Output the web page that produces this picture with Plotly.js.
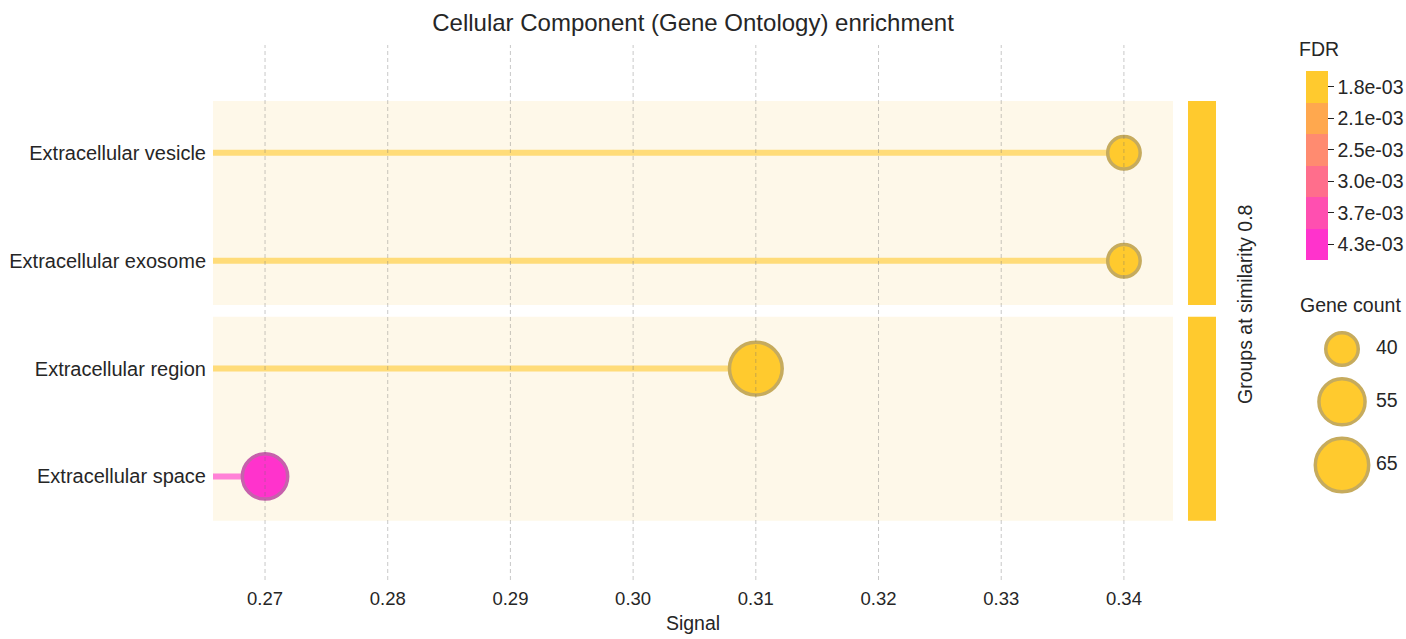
<!DOCTYPE html>
<html>
<head>
<meta charset="utf-8">
<script src="https://cdn.plot.ly/plotly-3.0.1.min.js"></script>
<style>html,body{margin:0;padding:0;background:#fff;}#chart{width:1406px;height:639px;}</style>
</head>
<body>
<div id="chart"></div>
<script>
// ---- data ----
const categories = ['Extracellular vesicle', 'Extracellular exosome', 'Extracellular region', 'Extracellular space'];
const signal = [0.34, 0.34, 0.31, 0.27];
const geneCount = [40, 40, 64, 54];
const fdr = [0.0018, 0.0018, 0.0018, 0.0043];
const groupId = [1, 1, 2, 2];
const xTickVals = [0.27, 0.28, 0.29, 0.30, 0.31, 0.32, 0.33, 0.34];
const fdrTickLabels = ['1.8e-03', '2.1e-03', '2.5e-03', '3.0e-03', '3.7e-03', '4.3e-03'];
const fdrColors = ['#FFCA2E', '#FFA84E', '#FF8B70', '#FF6E8C', '#FF4FB0', '#FF33CC'];
const legendCounts = [40, 55, 65];
const groupLabel = 'Groups at similarity 0.8';

// ---- styles / helpers ----
const FONT = 'Liberation Sans, Arial, sans-serif';
const TXT = '#262626';
const FS = 19.5;
const W = 1406, H = 639, ML = 213, MR = 10, MT = 45, MB = 59;
const PW = W - ML - MR, PH = H - MT - MB;
const MAIN_W = 960;
const xRange = [0.26576, 0.3440];
const yRange = [3.96, -1.0];
const lineW = 3.5;
function px2paperX(p) { return (p - ML) / PW; }
function px2paperY(p) { return 1 - (p - MT) / PH; }
function yDataToPaper(v) { return (yRange[0] - v) / (yRange[0] - yRange[1]); }
function outerDiam(c) { return 36 * Math.sqrt(1 + (c - 40) * 0.06); }
function fdrColor(v) {
  let best = 0, bd = Infinity;
  fdrTickLabels.forEach((t, i) => {
    const d = Math.abs(Math.log(parseFloat(t)) - Math.log(v));
    if (d < bd) { bd = d; best = i; }
  });
  return fdrColors[best];
}
function rgb(hex) { const n = parseInt(hex.slice(1), 16); return [n >> 16 & 255, n >> 8 & 255, n & 255]; }
function hexA(hex, a) { const c = rgb(hex); return 'rgba(' + c.join(',') + ',' + a + ')'; }
function edge(hex) { const c = rgb(hex); return 'rgb(' + c.map(v => Math.round(v * 0.5 + 140 * 0.5)).join(',') + ')'; }
const yIdx = categories.map((_, i) => i);
const ptColors = fdr.map(fdrColor);

const traces = [];
// stems
categories.forEach((c, i) => {
  traces.push({
    type: 'scatter', mode: 'lines', x: [xRange[0], signal[i]], y: [yIdx[i], yIdx[i]],
    line: { color: hexA(ptColors[i], 0.6), width: 6 }, hoverinfo: 'skip', showlegend: false, cliponaxis: false
  });
});
// points
traces.push({
  type: 'scatter', mode: 'markers', x: signal, y: yIdx, text: categories,
  marker: {
    size: geneCount.map(c => outerDiam(c) - lineW), color: ptColors,
    line: { color: ptColors.map(edge), width: lineW }, opacity: 1
  },
  showlegend: false, cliponaxis: false
});

// gene count legend subplot
const gap = 10;
const legY = [];
legendCounts.forEach((c, i) => {
  if (i === 0) legY.push(29);
  else legY.push(legY[i - 1] + (outerDiam(legendCounts[i - 1]) + outerDiam(c)) / 2 + gap);
});
traces.push({
  type: 'scatter', mode: 'markers', x: legendCounts.map(() => 42), y: legY, xaxis: 'x2', yaxis: 'y2',
  marker: { size: legendCounts.map(c => outerDiam(c) - lineW), color: fdrColors[0], opacity: 1,
    line: { color: edge(fdrColors[0]), width: lineW } },
  hoverinfo: 'skip', showlegend: false, cliponaxis: false
});
traces.push({
  type: 'scatter', mode: 'text', x: legendCounts.map(() => 76), y: legY, xaxis: 'x2', yaxis: 'y2',
  text: legendCounts.map(String), textposition: 'middle right',
  textfont: { family: FONT, size: FS, color: TXT }, hoverinfo: 'skip', showlegend: false, cliponaxis: false
});
// colorbar carrier
const nb = fdrColors.length;
const cs = [];
const revColors = fdrColors.slice().reverse();
revColors.forEach((col, i) => { cs.push([i / nb, col]); cs.push([(i + 1) / nb, col]); });
traces.push({
  type: 'scatter', mode: 'markers', x: [50], y: [50], xaxis: 'x2', yaxis: 'y2',
  marker: {
    size: 1, opacity: 0, color: [0], cmin: 0, cmax: nb, colorscale: cs, showscale: true,
    colorbar: {
      x: px2paperX(1306), xanchor: 'left', xpad: 0, y: px2paperY(165.5), yanchor: 'middle', ypad: 0,
      thickness: 22, thicknessmode: 'pixels', len: 189, lenmode: 'pixels', outlinewidth: 0,
      tickmode: 'array', tickvals: revColors.map((_, i) => i + 0.5), ticktext: fdrTickLabels.slice().reverse(),
      ticks: 'outside', ticklen: 6, tickwidth: 1.3, tickcolor: TXT, ticklabelstandoff: 9,
      tickfont: { family: FONT, size: FS, color: TXT }
    }
  },
  hoverinfo: 'skip', showlegend: false
});

// shapes
const shapes = [];
const groups = [...new Set(groupId)];
groups.forEach(g => {
  const idx = yIdx.filter(i => groupId[i] === g);
  const top = Math.min(...idx) - 0.48, bot = Math.max(...idx) + 0.41;
  shapes.push({ type: 'rect', layer: 'below', xref: 'x domain', x0: 0, x1: 1, yref: 'y', y0: top, y1: bot,
    fillcolor: '#FEF8E9', line: { width: 0 } });
  shapes.push({ type: 'rect', layer: 'above', xref: 'paper', x0: px2paperX(1188), x1: px2paperX(1216),
    yref: 'paper', y0: yDataToPaper(bot), y1: yDataToPaper(top), fillcolor: fdrColors[0], line: { width: 0 } });
});
xTickVals.forEach(v => {
  shapes.push({ type: 'line', layer: 'above', xref: 'x', x0: v, x1: v, yref: 'paper', y0: 0, y1: 1,
    line: { color: 'rgba(110,110,110,0.38)', width: 1, dash: '4px,3px' } });
});

const layout = {
  width: W, height: H, paper_bgcolor: '#fff', plot_bgcolor: 'rgba(0,0,0,0)',
  margin: { l: ML, r: MR, t: MT, b: MB, autoexpand: false },
  font: { family: FONT, color: TXT },
  title: { text: 'Cellular Component (Gene Ontology) enrichment', font: { family: FONT, size: 24, color: TXT },
    x: 693 / W, xanchor: 'center', y: 1 - 23 / H, yanchor: 'middle' },
  xaxis: {
    domain: [0, MAIN_W / PW], range: xRange, showgrid: false, zeroline: false, showline: false,
    tickmode: 'array', tickvals: xTickVals, ticktext: xTickVals.map(v => v.toFixed(2)),
    ticks: '', tickfont: { family: FONT, size: 18.5, color: TXT }, ticklabelstandoff: 5,
    title: { text: 'Signal', font: { family: FONT, size: FS, color: TXT }, standoff: 8 }
  },
  yaxis: {
    range: yRange, showgrid: false, zeroline: false, showline: false,
    tickmode: 'array', tickvals: yIdx, ticktext: categories, ticks: '',
    tickfont: { family: FONT, size: 20, color: TXT }, ticklabelstandoff: 6
  },
  xaxis2: { domain: [px2paperX(1300), 1], range: [0, 96], visible: false, anchor: 'y2', fixedrange: true },
  yaxis2: { domain: [px2paperY(500), px2paperY(320)], range: [180, 0], visible: false, anchor: 'x2', fixedrange: true },
  shapes: shapes,
  annotations: [
    { text: groupLabel, textangle: -90, xref: 'paper', yref: 'paper', x: px2paperX(1245), y: px2paperY(305),
      xanchor: 'center', yanchor: 'middle', showarrow: false, font: { family: FONT, size: FS, color: TXT } },
    { text: 'FDR', xref: 'paper', yref: 'paper', x: px2paperX(1297), y: px2paperY(49), xanchor: 'left', yanchor: 'middle',
      showarrow: false, font: { family: FONT, size: FS, color: TXT } },
    { text: 'Gene count', xref: 'paper', yref: 'paper', x: px2paperX(1298), y: px2paperY(305), xanchor: 'left', yanchor: 'middle',
      showarrow: false, font: { family: FONT, size: FS, color: TXT } }
  ],
  showlegend: false, hovermode: 'closest'
};
Plotly.newPlot('chart', traces, layout, { displayModeBar: false, responsive: false });
</script>
</body>
</html>
